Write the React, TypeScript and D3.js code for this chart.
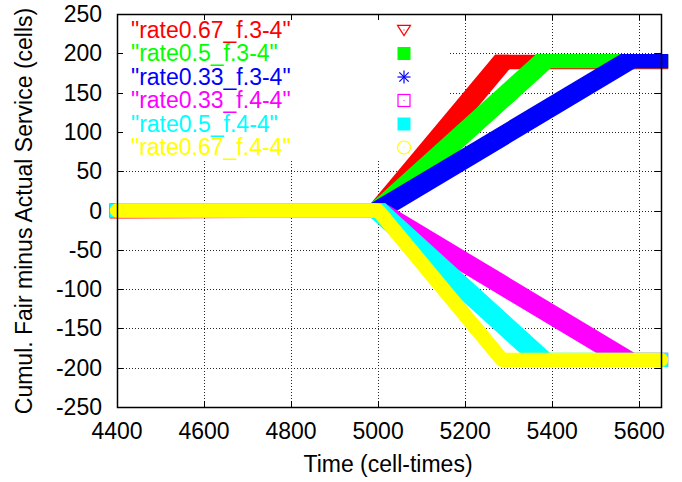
import React from "react";
import * as d3 from "d3";

const W = 682;
const H = 482;

const xTicks = [4400, 4600, 4800, 5000, 5200, 5400, 5600];
const yTicks = [-250, -200, -150, -100, -50, 0, 50, 100, 150, 200, 250];

const seriesNames = [
  '"rate0.67_f.3-4"',
  '"rate0.5_f.3-4"',
  '"rate0.33_f.3-4"',
  '"rate0.33_f.4-4"',
  '"rate0.5_f.4-4"',
  '"rate0.67_f.4-4"',
];
const seriesColors = ["#ff0000", "#00ff00", "#0000ff", "#ff00ff", "#00ffff", "#ffff00"];
const seriesMarkers = ["triangleDown", "squareFilled", "asterisk", "squareOpen", "squareFilled", "circleOpen"];

// breakpoints [time, value]
const rate067_f34: [number, number][] = [[4400, -1], [5000, 0], [5285, 189], [5650, 189]];
const rate05_f34: [number, number][] = [[4400, 0], [5000, 0], [5380, 190], [5650, 190]];
const rate033_f34: [number, number][] = [[4400, 0], [5000, 0], [5574, 190], [5650, 190]];
const rate033_f44: [number, number][] = [[4400, 0], [5000, 0], [5572, -190], [5650, -190]];
const rate05_f44: [number, number][] = [[4400, 0], [5000, 0], [5378, -190], [5650, -190]];
const rate067_f44: [number, number][] = [[4400, 0], [5000, 0], [5285, -190], [5650, -190]];

const seriesData = [rate067_f34, rate05_f34, rate033_f34, rate033_f44, rate05_f44, rate067_f44];

const ML = 117, MR = 661, MT = 14, MB = 407;
const x = d3.scaleLinear().domain([4400, 5650]).range([ML, MR]);
const y = d3.scaleLinear().domain([-250, 250]).range([MB, MT]);

const FONT = "'Liberation Sans', Arial, sans-serif";
const FS = 23;
const HALF = 7.2;

function squareBand(pts: [number, number][]): string[] {
  const polys: string[] = [];
  for (let i = 0; i < pts.length - 1; i++) {
    const a = [x(pts[i][0]), y(pts[i][1])];
    const b = [x(pts[i + 1][0]), y(pts[i + 1][1])];
    const corners: [number, number][] = [];
    for (const p of [a, b]) {
      corners.push([p[0] - HALF, p[1] - HALF]);
      corners.push([p[0] + HALF, p[1] - HALF]);
      corners.push([p[0] + HALF, p[1] + HALF]);
      corners.push([p[0] - HALF, p[1] + HALF]);
    }
    const hull = d3.polygonHull(corners);
    if (hull) polys.push("M" + hull.map((c) => c.join(",")).join("L") + "Z");
  }
  return polys;
}

function Marker({ kind, cx, cy, color }: { kind: string; cx: number; cy: number; color: string }) {
  const s = 6.5;
  if (kind === "triangleDown") {
    return (
      <g>
        <path d={`M${cx - s},${cy - s * 0.7}L${cx + s},${cy - s * 0.7}L${cx},${cy + s * 0.85}Z`} fill="none" stroke={color} strokeWidth={1.2} />
        <rect x={cx - 0.5} y={cy - 0.5} width={1} height={1} fill={color} />
      </g>
    );
  }
  if (kind === "squareFilled") {
    return <rect x={cx - s} y={cy - s} width={2 * s} height={2 * s} fill={color} />;
  }
  if (kind === "squareOpen") {
    return (
      <g>
        <rect x={cx - s + 0.5} y={cy - s + 0.5} width={2 * s - 1} height={2 * s - 1} fill="none" stroke={color} strokeWidth={1.2} />
        <rect x={cx - 0.5} y={cy - 0.5} width={1} height={1} fill={color} />
      </g>
    );
  }
  if (kind === "asterisk") {
    const d = s * 0.72;
    return (
      <g stroke={color} strokeWidth={1.2}>
        <line x1={cx - s} y1={cy} x2={cx + s} y2={cy} />
        <line x1={cx} y1={cy - s} x2={cx} y2={cy + s} />
        <line x1={cx - d} y1={cy - d} x2={cx + d} y2={cy + d} />
        <line x1={cx - d} y1={cy + d} x2={cx + d} y2={cy - d} />
      </g>
    );
  }
  return (
    <g>
      <circle cx={cx} cy={cy} r={s} fill="none" stroke={color} strokeWidth={1.2} />
      <rect x={cx - 0.5} y={cy - 0.5} width={1} height={1} fill={color} />
    </g>
  );
}

export default function App() {
  const line = d3
    .line<[number, number]>()
    .x((d) => x(d[0]))
    .y((d) => y(d[1]));

  const legendY0 = 30;
  const legendDy = 23.5;

  return (
    <div style={{ position: "absolute", left: 0, top: 0 }}>
      <svg width={W} height={H} style={{ display: "block", background: "#fff" }}>
        <rect x={0} y={0} width={W} height={H} fill="#fff" />
        {/* grid */}
        <g stroke="#000" strokeWidth={1} strokeDasharray="1,2" opacity={0.85}>
          {xTicks.map((t) => (
            <line key={"gx" + t} x1={Math.round(x(t)) + 0.5} x2={Math.round(x(t)) + 0.5} y1={MT} y2={MB} />
          ))}
          {yTicks.map((t) => (
            <line key={"gy" + t} x1={ML} x2={MR} y1={Math.round(y(t)) + 0.5} y2={Math.round(y(t)) + 0.5} />
          ))}
        </g>
        {/* legend background */}
        <rect x={ML + 1} y={MT + 1} width={332} height={144} fill="#fff" />
        {/* ticks */}
        <g stroke="#000" strokeWidth={1}>
          {xTicks.map((t) => (
            <g key={"tx" + t}>
              <line x1={Math.round(x(t)) + 0.5} x2={Math.round(x(t)) + 0.5} y1={MB} y2={MB - 6} />
              <line x1={Math.round(x(t)) + 0.5} x2={Math.round(x(t)) + 0.5} y1={MT} y2={MT + 6} />
            </g>
          ))}
          {yTicks.map((t) => (
            <g key={"ty" + t}>
              <line x1={ML} x2={ML + 6} y1={Math.round(y(t)) + 0.5} y2={Math.round(y(t)) + 0.5} />
              <line x1={MR} x2={MR - 6} y1={Math.round(y(t)) + 0.5} y2={Math.round(y(t)) + 0.5} />
            </g>
          ))}
        </g>
        {/* data bands */}
        {seriesData.map((pts, i) =>
          seriesMarkers[i] === "circleOpen" ? (
            <path
              key={"s" + i}
              d={line(pts) || ""}
              fill="none"
              stroke={seriesColors[i]}
              strokeWidth={HALF * 2}
              strokeLinecap="round"
              strokeLinejoin="round"
            />
          ) : (
            <g key={"s" + i} fill={seriesColors[i]}>
              {squareBand(pts).map((d, j) => (
                <path key={j} d={d} />
              ))}
            </g>
          )
        )}
        {/* frame */}
        <rect x={ML + 0.5} y={MT + 0.5} width={MR - ML} height={MB - MT} fill="none" stroke="#000" strokeWidth={1.5} />
        {/* tick labels */}
        <g fontFamily={FONT} fontSize={FS} fill="#000">
          {xTicks.map((t) => (
            <text key={"lx" + t} x={x(t)} y={439} textAnchor="middle">
              {t}
            </text>
          ))}
          {yTicks.map((t) => (
            <text key={"ly" + t} x={102} y={y(t) + 8} textAnchor="end">
              {t}
            </text>
          ))}
        </g>
        {/* axis labels */}
        <text x={388} y={472} textAnchor="middle" fontFamily={FONT} fontSize={FS} fill="#000">
          Time (cell-times)
        </text>
        <text
          x={32}
          y={211}
          textAnchor="middle"
          fontFamily={FONT}
          fontSize={FS}
          fill="#000"
          transform="rotate(-90, 32, 211)"
        >
          Cumul. Fair minus Actual Service (cells)
        </text>
        {/* legend */}
        {seriesNames.map((name, i) => (
          <g key={"lg" + i}>
            <text x={131} y={legendY0 + i * legendDy + 7.5} fontFamily={FONT} fontSize={FS} fill={seriesColors[i]}>
              {name}
            </text>
            <Marker kind={seriesMarkers[i]} cx={404} cy={legendY0 + i * legendDy} color={seriesColors[i]} />
          </g>
        ))}
      </svg>
    </div>
  );
}
